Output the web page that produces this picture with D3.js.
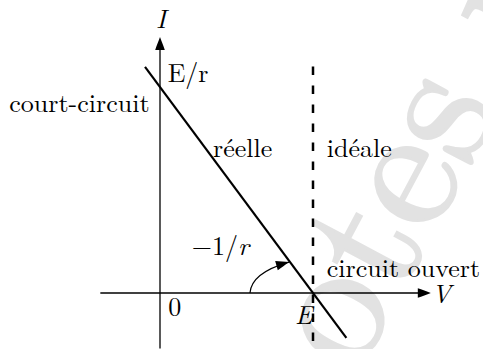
<!DOCTYPE html>
<html>
<head>
<meta charset="utf-8">
<script src="https://cdn.jsdelivr.net/npm/d3@7"></script>
<style>
  html, body { margin: 0; padding: 0; background: #fff; }
  svg { display: block; }
</style>
</head>
<body>
<script>
// Caractéristique I(V) d'un générateur : réelle (pente -1/r) et idéale (V = E)
const E = 1;            // tension à vide
const Icc = 1;          // courant de court-circuit E/r
const reelle = [        // droite I = (E - V)/r
  { V: -0.098, I: 1.098 },
  { V: 1.218,  I: -0.218 }
];
const ideale = [        // source idéale : V = E
  { V: 1, I: 1.1 },
  { V: 1, I: -0.24 }
];
const axeV = [-0.39, 1.77];
const axeI = [-0.27, 1.243];
// flèche de l'angle -1/r (points de contrôle en unités V, I)
const arcPente = [
  { V: 0.588, I: 0.0 },
  { V: 0.595, I: 0.073 },
  { V: 0.706, I: 0.121 },
  { V: 0.843, I: 0.150 }
];
const etiquettes = [
  { t: "court-circuit", V: -0.985, I: 0.877 },
  { t: "E/r",           V: 0.050, I: 1.026 },
  { t: "réelle",        V: 0.346, I: 0.662 },
  { t: "idéale",        V: 1.090, I: 0.660 },
  { t: "−1/r",          V: 0.207, I: 0.184, it: [3] },
  { t: "circuit ouvert",V: 1.090, I: 0.079 },
  { t: "0",             V: 0.054, I: -0.114 },
  { t: "E",             V: 0.882, I: -0.150, ital: true },
  { t: "V",             V: 1.776, I: -0.049, ital: true },
  { t: "I",             V: -0.026, I: 1.285, ital: true }
];

const W = 483, H = 349;
const POLICE = "Latin Modern Roman";
const x = d3.scaleLinear().domain([0, E]).range([160, 313]);
const y = d3.scaleLinear().domain([0, Icc]).range([293, 87]);

const svg = d3.select("body").append("svg")
  .attr("width", W).attr("height", H);

// filigrane
svg.append("text")
  .attr("transform", "translate(310,464) rotate(-62)")
  .attr("font-family", POLICE)
  .attr("font-size", 177)
  .attr("fill", "#e2e2e2")
  .attr("stroke", "#e2e2e2")
  .attr("stroke-width", 2.5)
  .text("notes p");

// pointe de flèche style « latex »
function pointe(g, tx, ty, angle) {
  g.append("path")
    .attr("d", "M0,0 C-4,-1.5 -9,-3.5 -13,-4.8 L-13,4.8 C-9,3.5 -4,1.5 0,0 Z")
    .attr("transform", `translate(${tx},${ty}) rotate(${angle})`)
    .attr("fill", "#000");
}

// axes
svg.append("line")
  .attr("x1", x(axeV[0])).attr("x2", x(axeV[1]) - 8)
  .attr("y1", y(0)).attr("y2", y(0))
  .attr("stroke", "#000").attr("stroke-width", 1.3);
pointe(svg, x(axeV[1]), y(0), 0);

svg.append("line")
  .attr("x1", x(0)).attr("x2", x(0))
  .attr("y1", y(axeI[0])).attr("y2", y(axeI[1]) + 8)
  .attr("stroke", "#000").attr("stroke-width", 1.3);
pointe(svg, x(0), y(axeI[1]), -90);

const ligne = d3.line().x(d => x(d.V)).y(d => y(d.I));

// caractéristique idéale (pointillés)
svg.append("path")
  .attr("d", ligne(ideale))
  .attr("fill", "none").attr("stroke", "#000")
  .attr("stroke-width", 2.5).attr("stroke-dasharray", "8.5,10.5");

// caractéristique réelle
svg.append("path")
  .attr("d", ligne(reelle))
  .attr("fill", "none").attr("stroke", "#000").attr("stroke-width", 2.2);

// arc de la pente
const p = arcPente.map(d => [x(d.V), y(d.I)]);
const chemin = d3.path();
chemin.moveTo(...p[0]);
chemin.bezierCurveTo(...p[1], ...p[2], ...p[3]);
svg.append("path").attr("d", chemin.toString())
  .attr("fill", "none").attr("stroke", "#000").attr("stroke-width", 1.2);
const ang = Math.atan2(p[3][1] - p[2][1], p[3][0] - p[2][0]) * 180 / Math.PI;
pointe(svg, p[3][0], p[3][1], ang);

// étiquettes
etiquettes.forEach(d => {
  const t = svg.append("text")
    .attr("x", x(d.V)).attr("y", y(d.I))
    .attr("font-family", POLICE)
    .attr("font-size", 26)
    .attr("fill", "#000");
  if (d.ital) t.attr("font-style", "italic");
  if (d.it) {
    [...d.t].forEach((c, i) => {
      t.append("tspan").text(c)
        .attr("font-style", d.it.includes(i) ? "italic" : "normal");
    });
  } else {
    t.text(d.t);
  }
});
</script>
</body>
</html>
